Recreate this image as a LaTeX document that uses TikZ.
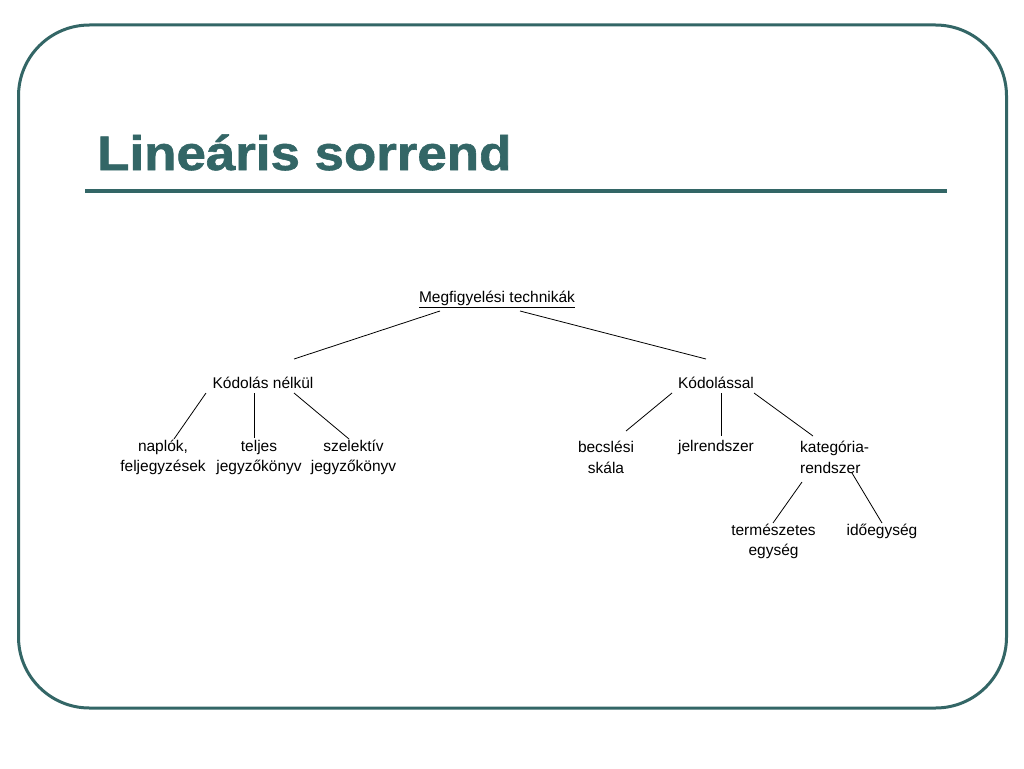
\documentclass[tikz,border=0pt]{standalone}
\usepackage{fontspec}
\setmainfont{Liberation Sans}
\newfontfamily\titlefont[FakeBold=1.2]{Liberation Sans Bold}
\definecolor{teal}{HTML}{336666}
\begin{document}
\begin{tikzpicture}[x=1pt,y=-1pt,
  lbl/.style={inner sep=0pt, font=\fontsize{15.5}{20.5}\selectfont, align=center, text=black},
  conn/.style={draw=black, line width=0.8pt}]
\useasboundingbox (0,0) rectangle (1024,768);
\fill[white] (0,0) rectangle (1024,768);
\draw[teal, line width=3pt, rounded corners=71pt] (18.5,25) rectangle (1006.5,708);
\node[anchor=base west, inner sep=0pt, text=teal, xscale=1.09,
  font=\fontsize{48.5}{52}\titlefont] (title) at (97,170) {Lineáris sorrend};
\draw[teal, line width=4.5pt] (85,191) -- (947,191);

\node[lbl] (root) at (497,299) {\underline{Megfigyelési technikák}};
\node[lbl] (kn) at (263,383) {Kódolás nélkül};
\node[lbl] (kv) at (716,383) {Kódolással};
\node[lbl] (nap) at (163,457.5) {naplók,\\feljegyzések};
\node[lbl] (tel) at (259,457.5) {teljes\\jegyzőkönyv};
\node[lbl] (sze) at (353.5,457.5) {szelektív\\jegyzőkönyv};
\node[lbl] (bec) at (606,457.5) {becslési\\skála};
\node[lbl] (jel) at (716,447) {jelrendszer};
\node[lbl, align=left, anchor=west] (kat) at (800,457.5) {kategória-\\rendszer};
\node[lbl] (ter) at (773.5,541.5) {természetes\\egység};
\node[lbl] (ido) at (882,531) {időegység};

\coordinate (r1) at (440,311); \coordinate (kn1) at (294,359);
\coordinate (r2) at (520,311); \coordinate (kv1) at (706,359);
\coordinate (kna) at (206,393); \coordinate (napt) at (174,439);
\coordinate (knb) at (254,393); \coordinate (telt) at (254,438);
\coordinate (knc) at (294,393); \coordinate (szet) at (349,439);
\coordinate (kva) at (672,393); \coordinate (bect) at (626,431);
\coordinate (kvb) at (721,393); \coordinate (jelt) at (721,436);
\coordinate (kvc) at (754,393); \coordinate (katt) at (813,436);
\coordinate (kata) at (802,482); \coordinate (tert) at (773,523);
\coordinate (katb) at (852,473); \coordinate (idot) at (882,523);

\draw[conn] (r1) -- (kn1);
\draw[conn] (r2) -- (kv1);
\draw[conn] (kna) -- (napt);
\draw[conn] (knb) -- (telt);
\draw[conn] (knc) -- (szet);
\draw[conn] (kva) -- (bect);
\draw[conn] (kvb) -- (jelt);
\draw[conn] (kvc) -- (katt);
\draw[conn] (kata) -- (tert);
\draw[conn] (katb) -- (idot);
\end{tikzpicture}
\end{document}
